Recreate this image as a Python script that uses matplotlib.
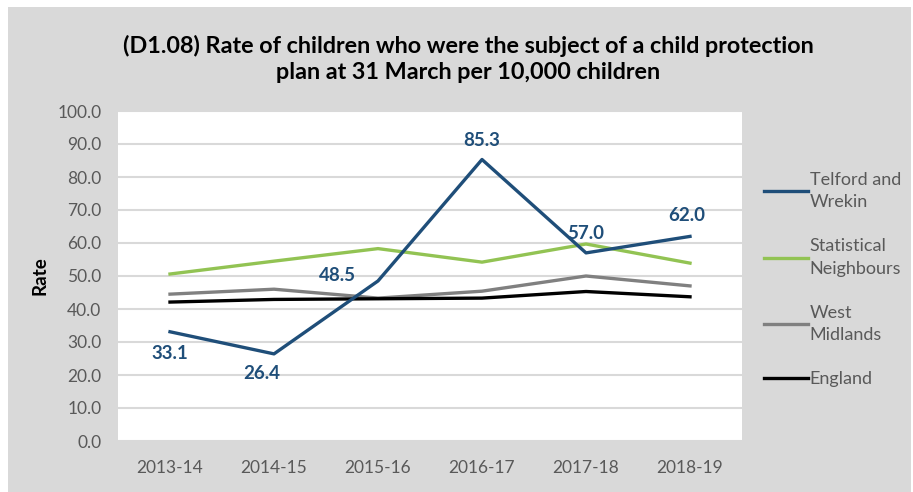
import matplotlib
matplotlib.use("Agg")
import matplotlib.pyplot as plt
from matplotlib.patches import Rectangle

# data
years = ["2013-14", "2014-15", "2015-16", "2016-17", "2017-18", "2018-19"]
telford = [33.1, 26.4, 48.5, 85.3, 57.0, 62.0]
stat_neighbours = [50.6, 54.5, 58.3, 54.2, 59.7, 53.9]
west_midlands = [44.5, 46.0, 43.3, 45.4, 50.0, 47.0]
england = [42.1, 42.9, 43.1, 43.3, 45.3, 43.7]

# label offsets (points) for the Telford data labels
label_offsets = [(0, -16), (-9, -14), (-29, 4), (0, 14), (0, 14), (-2, 15)]

plt.rcParams["font.family"] = ["Lato", "DejaVu Sans"]

grey_bg = "#D9D9D9"
blue = "#1F4E79"
green = "#92C353"
tick_col = "#595959"

fig = plt.figure(figsize=(9.13, 4.92), dpi=100)
fig.patch.set_facecolor("white")
fig.patches.append(Rectangle((8 / 913, 0), 903 / 913, 485 / 492,
                             transform=fig.transFigure, facecolor=grey_bg,
                             edgecolor="none", zorder=-10))

ax = fig.add_axes([118 / 913, 1 - 441 / 492, 624 / 913, 330 / 492])
ax.set_facecolor("white")

x = list(range(len(years)))
ax.plot(x, telford, color=blue, lw=2.4, label="Telford and\nWrekin", zorder=5)
ax.plot(x, stat_neighbours, color=green, lw=2.4, label="Statistical\nNeighbours", zorder=4)
ax.plot(x, west_midlands, color="#808080", lw=2.4, label="West\nMidlands", zorder=3)
ax.plot(x, england, color="black", lw=2.4, label="England", zorder=3)

for i, v in enumerate(telford):
    ax.annotate(f"{v:.1f}", (i, v), xytext=label_offsets[i], textcoords="offset points",
                ha="center", va="center", color=blue, fontsize=13.5, fontweight="bold")

ax.set_xlim(-0.5, len(years) - 0.5)
ax.set_ylim(0, 100)
ax.set_yticks(range(0, 101, 10))
ax.set_yticklabels([f"{t:.1f}" for t in range(0, 101, 10)])
ax.set_xticks(x)
ax.set_xticklabels(years)
ax.tick_params(axis="both", length=0, labelsize=12.5, colors=tick_col)
ax.tick_params(axis="x", pad=14)
ax.tick_params(axis="y", pad=12)
ax.grid(axis="y", color=grey_bg, lw=1.5)
ax.set_axisbelow(True)
for s in ax.spines.values():
    s.set_visible(False)

ax.set_ylabel("Rate", fontsize=13.5, fontweight="bold", labelpad=6)

fig.text(468 / 913, 1 - 59 / 492,
         "(D1.08) Rate of children who were the subject of a child protection\nplan at 31 March per 10,000 children",
         ha="center", va="center", fontsize=16.8, fontweight="bold", linespacing=1.3)

leg = ax.legend(loc="upper left", bbox_to_anchor=(1.01, 0.865), frameon=False,
                fontsize=13, handlelength=2.4, handletextpad=0.1, labelspacing=1.55,
                labelcolor=tick_col)
for t in leg.get_texts():
    t.set_linespacing(1.5)

fig.savefig("out.png", dpi=100, facecolor=fig.get_facecolor())
